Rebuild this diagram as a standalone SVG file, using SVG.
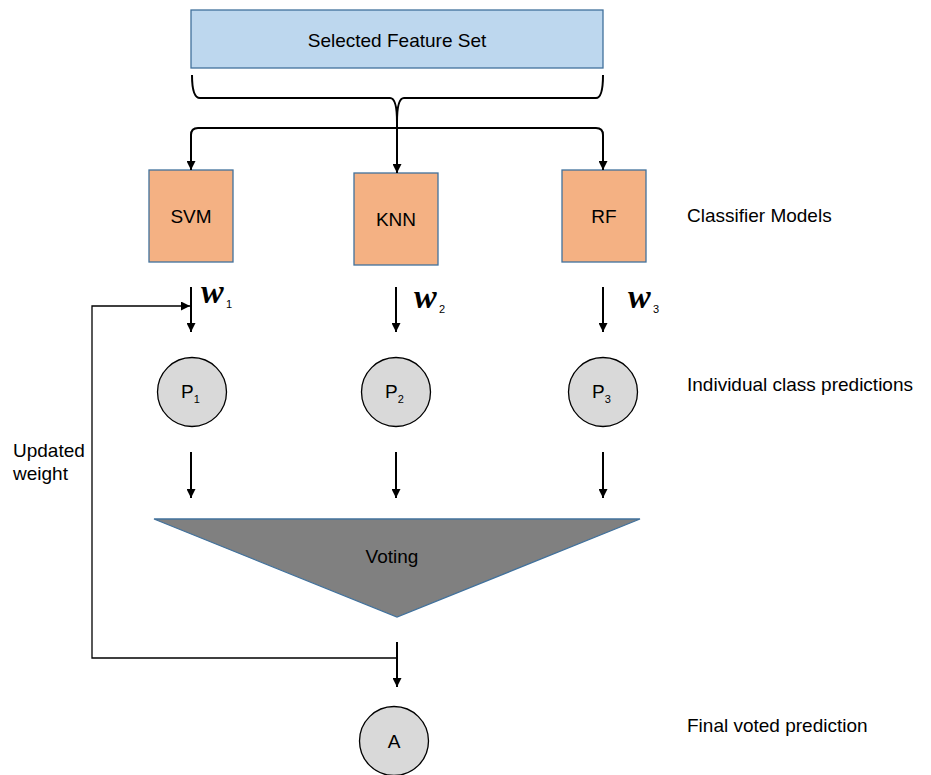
<svg xmlns="http://www.w3.org/2000/svg" width="931" height="775" viewBox="0 0 931 775">
<style>
text{font-family:"Liberation Sans",Arial,sans-serif;fill:#000}
.lbl{font-size:19px}
.c{text-anchor:middle}
.box{stroke:#41719C;stroke-width:1.3}
.circ{fill:#D9D9D9;stroke:#000;stroke-width:1.3}
.ln{fill:none;stroke:#000;stroke-width:2}
.thin{fill:none;stroke:#000;stroke-width:1.3}
.w{font-family:"Liberation Serif","Times New Roman",serif;font-style:italic;font-weight:bold;font-size:34px}
.sub{font-size:11px}
</style>
<defs>
<marker id="ah" viewBox="0 0 10 10" refX="10" refY="5" markerWidth="9" markerHeight="9" markerUnits="userSpaceOnUse" orient="auto">
<path d="M0,0 L10,5 L0,10 z" fill="#000"/>
</marker>
</defs>
<g id="features">
<rect class="box" x="191" y="10" width="412" height="58" fill="#BDD7EE"/>
<text class="lbl c" x="397" y="47">Selected Feature Set</text>
</g>
<g id="svm">
<rect class="box" x="149" y="170" width="84" height="92" fill="#F4B183"/>
<text class="lbl c" x="191" y="223">SVM</text>
</g>
<g id="knn">
<rect class="box" x="354" y="173" width="84" height="92" fill="#F4B183"/>
<text class="lbl c" x="396" y="226">KNN</text>
</g>
<g id="rf">
<rect class="box" x="562" y="170" width="84" height="92" fill="#F4B183"/>
<text class="lbl c" x="604" y="223">RF</text>
</g>
<g id="p1">
<circle class="circ" cx="192" cy="392" r="34.5"/>
<text class="lbl" x="181" y="398">P<tspan class="sub" dy="5">1</tspan></text>
</g>
<g id="p2">
<circle class="circ" cx="396" cy="392" r="34.5"/>
<text class="lbl" x="385" y="398">P<tspan class="sub" dy="5">2</tspan></text>
</g>
<g id="p3">
<circle class="circ" cx="603" cy="392" r="34.5"/>
<text class="lbl" x="592" y="398">P<tspan class="sub" dy="5">3</tspan></text>
</g>
<g id="voting">
<polygon points="154,519 640,519 397,617" fill="#808080" stroke="#41719C" stroke-width="1.3"/>
<text class="lbl c" x="392" y="563">Voting</text>
</g>
<g id="final">
<circle class="circ" cx="394" cy="741" r="34.5"/>
<text class="lbl c" x="394" y="748">A</text>
</g>
<g id="labels">
<text class="lbl" x="687" y="222">Classifier Models</text>
<text class="lbl" x="687" y="391">Individual class predictions</text>
<text class="lbl" x="687" y="732">Final voted prediction</text>
<text class="lbl" x="13" y="457">Updated</text>
<text class="lbl" x="13" y="480">weight</text>
<text class="w" x="201" y="303">w</text><text class="sub" x="226" y="308">1</text>
<text class="w" x="414" y="308">w</text><text class="sub" x="439" y="313">2</text>
<text class="w" x="628" y="308">w</text><text class="sub" x="653" y="313">3</text>
</g>
<g id="connectors">
<path class="ln" d="M192,75 Q192,98 200,98 L390,98 Q397,98 397,122 Q397,98 404,98 L596,98 Q603,98 603,75"/>
<path class="ln" d="M191,140 L191,135 Q191,128 198,128 L596,128 Q603,128 603,135 L603,140"/>
<line class="ln" x1="191" y1="138" x2="191" y2="170" marker-end="url(#ah)"/>
<line class="ln" x1="397" y1="120" x2="397" y2="173" marker-end="url(#ah)"/>
<line class="ln" x1="603" y1="138" x2="603" y2="170" marker-end="url(#ah)"/>
<line class="ln" x1="191" y1="287" x2="191" y2="332" marker-end="url(#ah)"/>
<line class="ln" x1="396" y1="287" x2="396" y2="332" marker-end="url(#ah)"/>
<line class="ln" x1="603" y1="287" x2="603" y2="332" marker-end="url(#ah)"/>
<line class="ln" x1="191" y1="452" x2="191" y2="498" marker-end="url(#ah)"/>
<line class="ln" x1="396" y1="452" x2="396" y2="498" marker-end="url(#ah)"/>
<line class="ln" x1="603" y1="452" x2="603" y2="498" marker-end="url(#ah)"/>
<line class="ln" x1="397" y1="642" x2="397" y2="687" marker-end="url(#ah)"/>
<polyline class="thin" points="397,658 92,658 92,306 190,306" marker-end="url(#ah)"/>
</g>
</svg>
